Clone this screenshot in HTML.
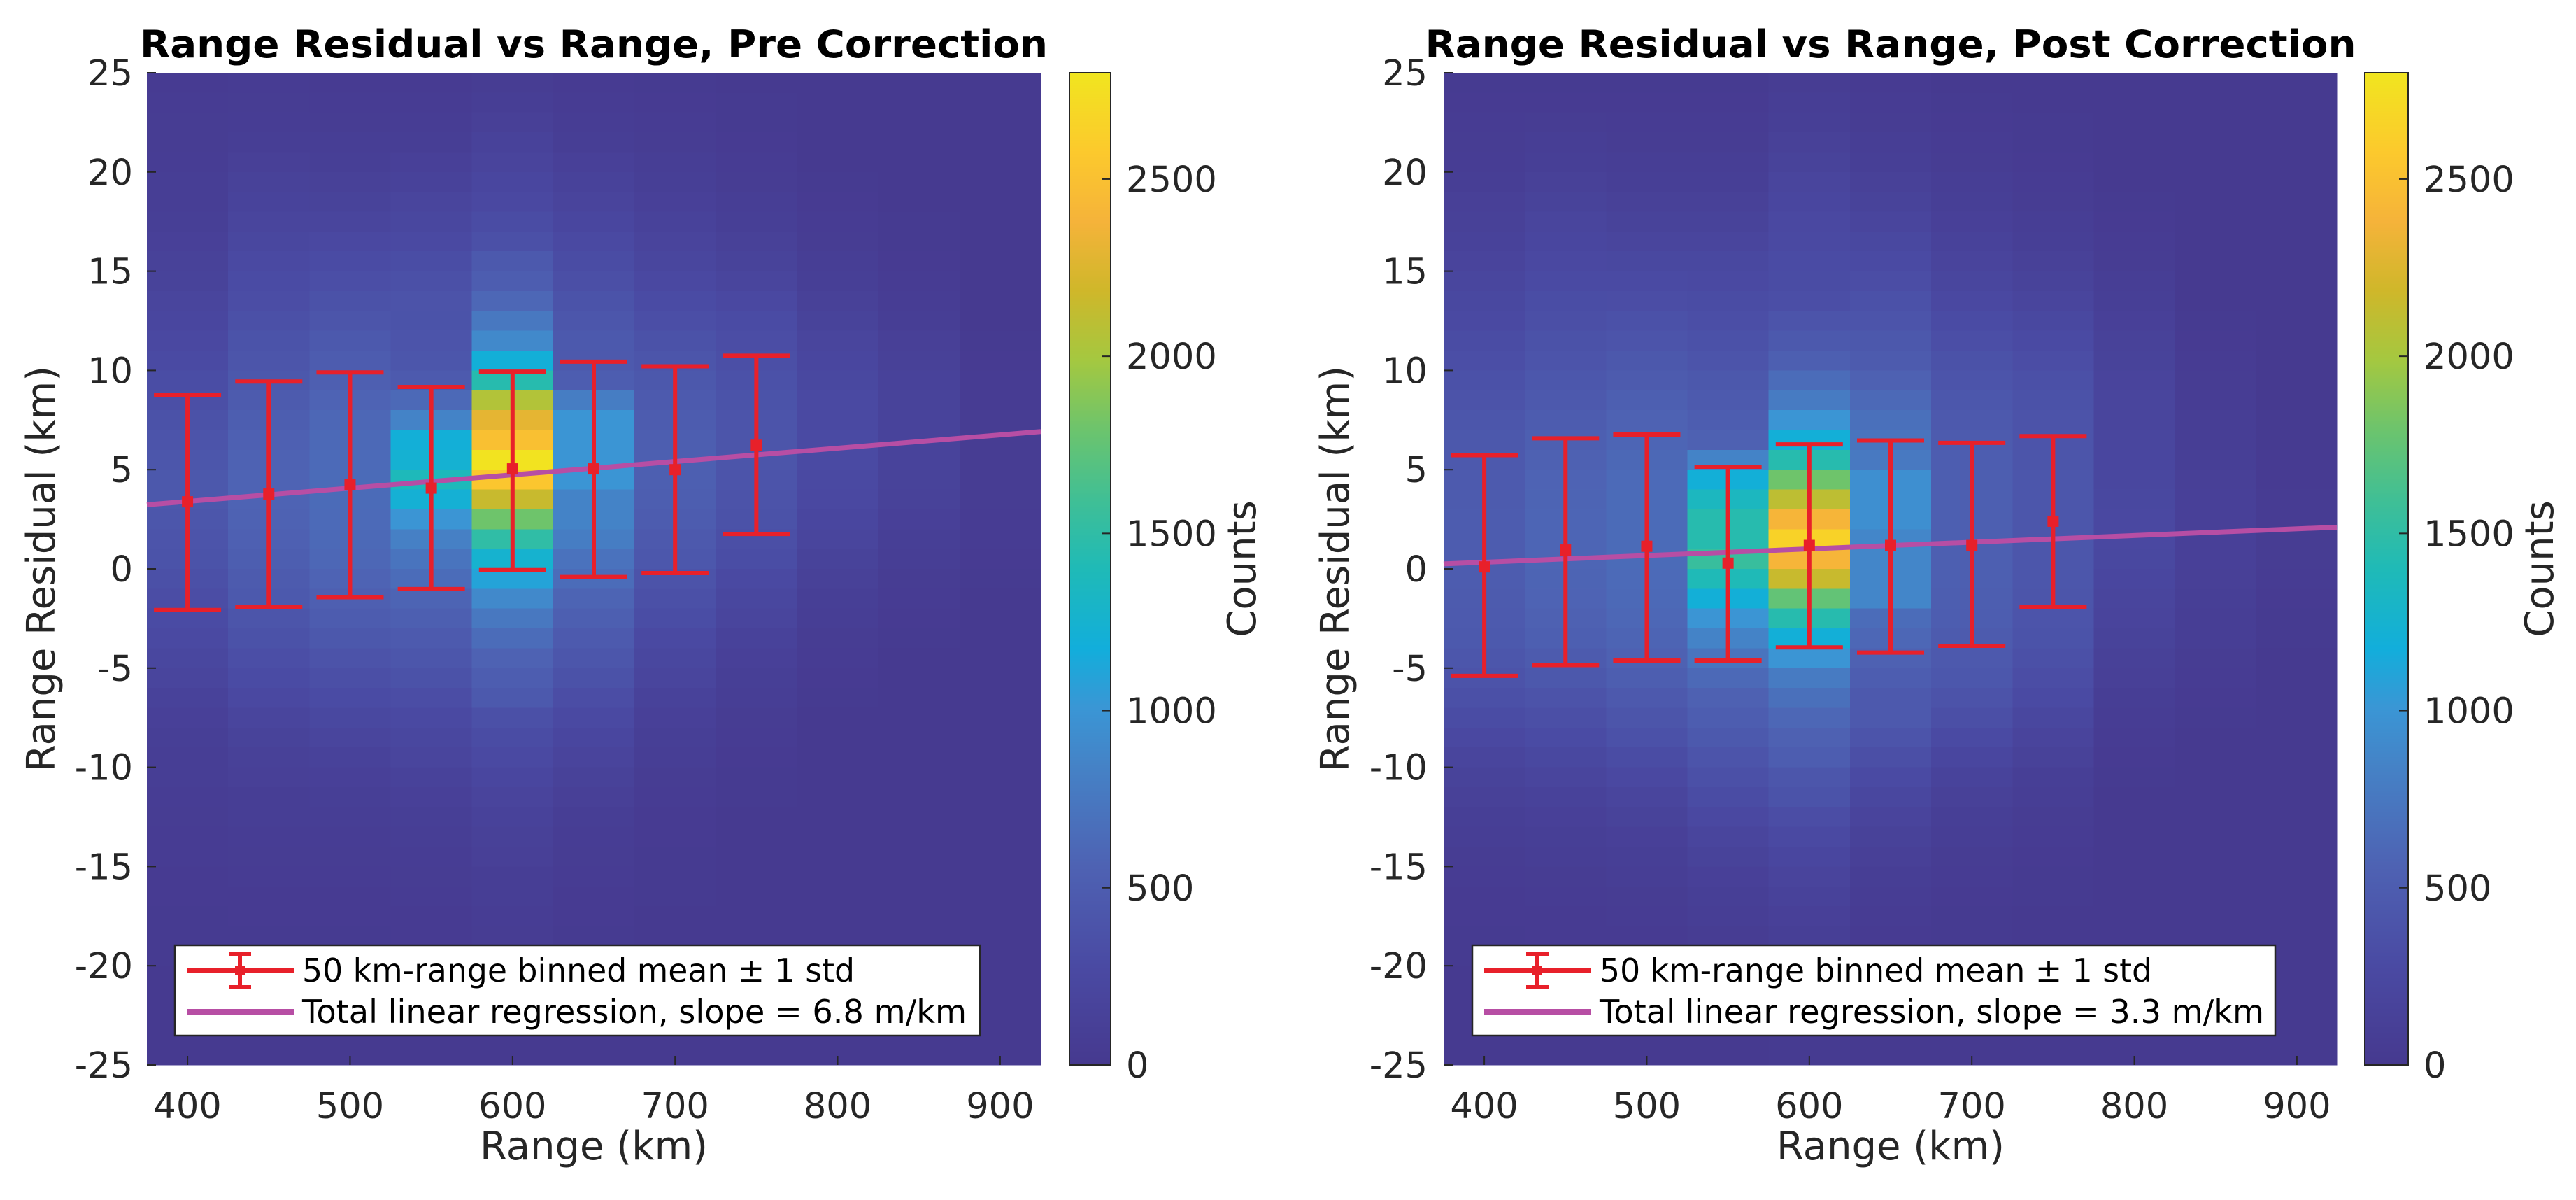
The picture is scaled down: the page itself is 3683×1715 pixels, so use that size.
<!DOCTYPE html>
<html><head><meta charset="utf-8">
<style>
html,body{margin:0;padding:0;background:#fff;}
svg{display:block;}
text{font-family:"DejaVu Sans","Liberation Sans",sans-serif;fill:#262626;}
</style></head>
<body>
<svg id="fig" width="3683" height="1715" viewBox="0 0 3683 1715" xmlns="http://www.w3.org/2000/svg"></svg>
<script>
// ---- data ----
const binCenters = [400,450,500,550,600,650,700,750,800,850,900];
const xTicks = [400,500,600,700,800,900];
const yTicks = [25,20,15,10,5,0,-5,-10,-15,-20,-25];
const cbarTicks = [0,500,1000,1500,2000,2500];
const cbarMax = 2800;

// counts per range bin, rows from +25 km down to -25 km (1 km bins)
const preCounts = [
 [40,50,60,60,70,80,90,100,120,140,160,190,220,250,280,310,340,370,400,420,440,440,420,400,380,350,320,290,260,230,190,150,120,100,90,80,70,60,50,50,40,40,30,30,30,20,20,20,20,20],
 [50,60,70,90,110,140,170,200,230,260,290,320,350,380,410,440,480,510,540,560,570,570,560,540,510,480,450,410,370,330,290,250,200,160,130,110,90,80,70,60,50,40,40,30,30,30,20,20,20,20],
 [40,50,60,80,100,130,160,200,250,290,330,370,410,450,490,530,570,600,620,630,640,640,630,620,600,570,530,490,440,390,340,290,240,190,150,120,100,80,70,60,50,40,40,30,30,20,20,20,20,20],
 [40,50,70,90,120,150,190,230,270,310,350,390,380,400,420,470,620,850,1200,1230,1380,1220,1000,820,720,650,580,520,470,420,370,320,270,230,190,150,120,100,80,70,60,50,40,40,30,30,20,20,20,20],
 [60,80,110,150,180,220,250,300,350,450,500,600,750,900,1200,1450,2050,2300,2500,2780,2550,2150,1800,1500,1250,1100,900,750,650,560,500,450,350,300,260,220,180,150,130,110,90,80,70,60,50,40,30,30,20,20],
 [40,50,70,90,120,150,180,220,260,300,340,380,420,450,460,500,800,1000,1000,1000,1000,850,850,800,700,650,580,520,470,420,370,320,270,220,180,140,110,90,70,60,50,40,40,30,30,20,20,20,20,20],
 [30,40,50,60,80,100,120,150,180,210,250,290,330,370,410,440,470,490,510,520,520,510,490,460,430,390,350,310,270,230,190,150,120,100,80,60,50,40,40,30,30,30,20,20,20,20,10,10,10,10],
 [20,30,30,40,50,60,80,100,130,160,200,250,290,320,340,360,380,400,410,410,400,390,370,340,310,270,230,190,150,120,100,80,60,50,40,30,30,20,20,20,10,10,10,10,10,10,10,10,10,10],
 [10,10,20,20,20,30,40,50,60,80,100,130,160,190,220,240,260,270,280,280,270,250,220,190,160,130,100,80,60,50,40,30,20,20,20,10,10,10,10,10,10,10,10,10,10,10,10,10,10,10],
 [10,10,10,10,10,20,20,30,30,40,50,70,90,110,130,150,160,170,170,170,160,140,120,100,80,60,50,40,30,20,20,10,10,10,10,10,10,10,10,10,10,10,10,10,10,10,10,10,10,10],
 [10,10,10,10,10,10,10,10,10,10,10,20,20,30,40,50,50,60,60,60,60,60,50,50,40,30,20,20,10,10,10,10,10,10,10,10,10,10,10,10,10,10,10,10,10,10,10,10,10,10]
];
const postCounts = [
 [30,40,50,60,70,90,110,130,150,180,210,240,270,300,330,360,390,420,440,460,470,480,490,490,490,490,480,470,450,420,390,350,300,250,200,160,130,100,80,60,50,40,40,30,30,20,20,20,20,20],
 [30,40,60,80,100,130,160,190,220,250,280,310,340,370,400,430,460,490,520,550,570,580,590,590,590,580,570,550,520,480,440,390,340,290,240,190,150,120,100,80,60,50,40,40,30,30,20,20,20,20],
 [30,40,50,60,80,100,130,160,200,240,280,320,360,400,440,480,520,560,590,610,630,640,640,640,640,630,620,600,580,550,510,460,410,360,300,250,200,160,120,100,80,60,50,40,30,30,20,20,20,20],
 [30,40,50,60,80,100,130,160,200,240,270,300,330,360,400,440,470,500,550,850,1200,1350,1450,1450,1550,1400,1200,1000,850,720,620,550,500,450,400,350,300,250,200,160,120,100,80,60,50,40,30,30,20,20],
 [60,80,100,130,160,190,220,250,270,290,300,330,400,450,520,650,780,1000,1200,1450,1800,2100,2400,2650,2400,2150,1750,1450,1200,1000,780,680,600,550,500,420,380,320,270,220,180,150,120,100,80,60,50,40,30,30],
 [40,50,60,80,100,130,160,200,240,280,320,360,400,440,480,550,620,680,720,760,950,950,950,870,870,870,870,650,600,550,500,460,460,400,340,280,230,180,140,110,90,70,50,40,30,30,20,20,20,20],
 [20,30,40,50,60,80,100,120,150,180,210,250,290,330,370,400,430,460,480,500,510,520,520,520,520,520,510,500,480,460,430,390,340,280,220,170,130,100,80,60,50,40,30,30,20,20,20,10,10,10],
 [20,20,30,30,40,50,60,80,100,130,160,200,240,280,320,350,370,390,400,410,420,420,420,420,420,420,410,400,380,350,320,280,230,180,140,100,80,60,50,40,30,30,20,20,20,10,10,10,10,10],
 [10,10,10,20,20,20,30,40,50,60,80,100,120,140,160,180,190,200,210,220,230,240,250,250,240,220,200,180,160,130,110,90,70,50,40,30,20,20,20,10,10,10,10,10,10,10,10,10,10,10],
 [10,10,10,10,10,10,10,10,10,10,20,20,30,40,50,60,70,80,90,100,110,120,120,120,120,110,100,90,80,60,50,40,30,20,20,10,10,10,10,10,10,10,10,10,10,10,10,10,10,10],
 [10,10,10,10,10,10,10,10,10,10,10,10,10,10,10,20,20,30,30,40,40,50,50,60,60,50,40,30,30,20,20,10,10,10,10,10,10,10,10,10,10,10,10,10,10,10,10,10,10,10]
];

const errCenters = [400,450,500,550,600,650,700,750];
const preMean = [3.38,3.77,4.26,4.07,5.04,5.04,5.0,6.23];
const preTop = [8.78,9.44,9.90,9.17,9.94,10.44,10.21,10.74];
const preBot = [-2.07,-1.93,-1.43,-1.02,-0.06,-0.41,-0.21,1.76];
const postMean = [0.10,0.95,1.14,0.29,1.18,1.18,1.18,2.40];
const postTop = [5.73,6.58,6.77,5.15,6.27,6.47,6.35,6.69];
const postBot = [-5.39,-4.85,-4.62,-4.62,-3.96,-4.22,-3.88,-1.92];
const preFit = [3.23,6.92];   // residual at x=375 and x=925
const postFit = [0.25,2.10];

// ---- rendering ----
const NS = "http://www.w3.org/2000/svg";
const svg = document.getElementById('fig');
function mk(tag, attrs, parent){
  const e = document.createElementNS(NS, tag);
  for (const k in attrs) e.setAttribute(k, attrs[k]);
  (parent||svg).appendChild(e);
  return e;
}
const stops = [[0,'#46398f'],[0.10,'#4a4aa3'],[0.20,'#4e62b3'],[0.30,'#4582c6'],[0.36,'#3a96d5'],[0.42,'#12aedb'],[0.50,'#1fbab7'],[0.57,'#40bf95'],[0.64,'#6cc46d'],[0.71,'#a4c840'],[0.78,'#cfb72a'],[0.85,'#f5b33a'],[0.92,'#fcc92d'],[1.0,'#f1e51f']];
function hex(c){return [parseInt(c.substr(1,2),16),parseInt(c.substr(3,2),16),parseInt(c.substr(5,2),16)];}
function cmap(v){
  let t = Math.max(0, Math.min(1, v / cbarMax));
  for (let i=0;i<stops.length-1;i++){
    if (t <= stops[i+1][0]){
      const a=hex(stops[i][1]), b=hex(stops[i+1][1]);
      const f=(t-stops[i][0])/(stops[i+1][0]-stops[i][0]);
      return 'rgb('+a.map((x,j)=>Math.round(x+(b[j]-x)*f)).join(',')+')';
    }
  }
  return stops[stops.length-1][1];
}

function panel(cfg){
  const X0=cfg.x0, X1=cfg.x0+1278, Y0=104, Y1=1522;
  const xs = v => X0 + (v-375)/550*(X1-X0);
  const ys = v => Y0 + (25-v)/50*(Y1-Y0);
  const g = mk('g', {});
  
  
  const hm = mk('g', {'shape-rendering':'crispEdges'}, g);
  
  
  mk('rect',{x:X0,y:Y0,width:X1-X0,height:Y1-Y0,fill:cmap(0)},hm);
  cfg.counts.forEach((col,ci)=>{
    const c = binCenters[ci];
    col.forEach((val,ri)=>{
      const top = 25-ri;
      const r = mk('rect',{x:xs(c-25),y:ys(top),width:xs(c+25)-xs(c-25)+0.6,height:ys(top-1)-ys(top)+0.6,fill:cmap(val)},hm);
      
      
    });
  });
  const fl = mk('line',{x1:xs(375),y1:ys(cfg.fit[0]),x2:xs(925),y2:ys(cfg.fit[1]),stroke:'#b74ea4','stroke-width':7},g);
  
  
  errCenters.forEach((c,i)=>{
    const eg = mk('g',{stroke:'#e8202a','stroke-width':6,fill:'#e8202a'},g);
    
    
    const x = xs(c);
    mk('line',{x1:x,y1:ys(cfg.top[i]),x2:x,y2:ys(cfg.bot[i])},eg);
    mk('line',{x1:x-48,y1:ys(cfg.top[i]),x2:x+48,y2:ys(cfg.top[i])},eg);
    mk('line',{x1:x-48,y1:ys(cfg.bot[i]),x2:x+48,y2:ys(cfg.bot[i])},eg);
    mk('rect',{x:x-8,y:ys(cfg.mean[i])-8,width:16,height:16,stroke:'none'},eg);
  });
  yTicks.forEach(v=>{
    mk('line',{x1:X0,y1:ys(v),x2:X0+13,y2:ys(v),stroke:'#262626','stroke-width':2},g);
    const t = mk('text',{x:cfg.yTickX,y:ys(v)+18,'text-anchor':'end','font-size':51},g);
    t.textContent = v;
    
    
  });
  xTicks.forEach(v=>{
    mk('line',{x1:xs(v),y1:Y1,x2:xs(v),y2:Y1-13,stroke:'#262626','stroke-width':2},g);
    const t = mk('text',{x:xs(v),y:1598,'text-anchor':'middle','font-size':51},g);
    t.textContent = v;
    
    
  });
  const xl = mk('text',{x:(X0+X1)/2,y:1657,'text-anchor':'middle','font-size':56},g);
  xl.textContent='Range (km)';
  
  
  const yl = mk('text',{x:0,y:0,'text-anchor':'middle','font-size':56,transform:'translate('+(cfg.yLabX+20)+',813) rotate(-90)'},g);
  yl.textContent='Range Residual (km)';
  
  
  const ti = mk('text',{x:(X0+X1)/2,y:82,'text-anchor':'middle','font-size':54,'font-weight':'bold',style:'fill:#000',textLength:cfg.titleLen,lengthAdjust:'spacingAndGlyphs'},g);
  ti.textContent=cfg.title;
  
  
  const cb = mk('g',{},g);
  
  
  const CX=cfg.cbX, CW=cfg.cbW;
  const cy = v => Y1 - v/cbarMax*(Y1-Y0);
  for (let y=Y0; y<Y1; y+=2){
    const v = (Y1-y-1)/(Y1-Y0)*cbarMax;
    mk('rect',{x:CX,y:y,width:CW,height:2.6,fill:cmap(v)},cb);
  }
  mk('rect',{x:CX,y:Y0,width:CW,height:Y1-Y0,fill:'none',stroke:'#262626','stroke-width':2},cb);
  cbarTicks.forEach(v=>{
    mk('line',{x1:CX+CW-13,y1:cy(v),x2:CX+CW,y2:cy(v),stroke:'#262626','stroke-width':2},cb);
    const t = mk('text',{x:CX+CW+22,y:cy(v)+18,'font-size':51},cb);
    t.textContent=v;
    
    
  });
  const cl = mk('text',{x:0,y:0,'text-anchor':'middle','font-size':56,transform:'translate('+(cfg.countsX+20)+',813) rotate(-90)'},cb);
  cl.textContent='Counts';
  
  
  const L = cfg.legX, LT=1351;
  const lg = mk('g',{},g);
  
  
  mk('rect',{x:L,y:LT,width:cfg.legW,height:129,fill:'#fff',stroke:'#262626','stroke-width':2.5},lg);
  const e1 = mk('g',{stroke:'#e8202a','stroke-width':6,fill:'#e8202a'},lg);
  
  
  mk('line',{x1:L+17,y1:1387,x2:L+170,y2:1387},e1);
  mk('line',{x1:L+93,y1:1363,x2:L+93,y2:1411},e1);
  mk('line',{x1:L+77,y1:1363,x2:L+109,y2:1363},e1);
  mk('line',{x1:L+77,y1:1411,x2:L+109,y2:1411},e1);
  mk('rect',{x:L+86,y:1380,width:14,height:14,stroke:'none'},e1);
  const t1 = mk('text',{x:L+182,y:1403,'font-size':46,style:'fill:#000',textLength:790,lengthAdjust:'spacingAndGlyphs'},lg);
  t1.textContent='50 km-range binned mean \u00b1 1 std';
  const e2 = mk('line',{x1:L+17,y1:1446,x2:L+170,y2:1446,stroke:'#b74ea4','stroke-width':8},lg);
  
  
  const t2 = mk('text',{x:L+182,y:1462,'font-size':46,style:'fill:#000',textLength:950,lengthAdjust:'spacingAndGlyphs'},lg);
  t2.textContent='Total linear regression, slope = '+cfg.slope+' m/km';
}

panel({name:'pre-correction',x0:210,counts:preCounts,mean:preMean,top:preTop,bot:preBot,fit:preFit,
  yTickX:190,yLabX:58,title:'Range Residual vs Range, Pre Correction',titleLen:1298,
  cbX:1529,cbW:59,countsX:1775,legX:250,legW:1151,slope:'6.8'});
panel({name:'post-correction',x0:2064,counts:postCounts,mean:postMean,top:postTop,bot:postBot,fit:postFit,
  yTickX:2041,yLabX:1908,title:'Range Residual vs Range, Post Correction',titleLen:1331,
  cbX:3381,cbW:62,countsX:3630,legX:2105,legW:1148,slope:'3.3'});
</script>
</body></html>
